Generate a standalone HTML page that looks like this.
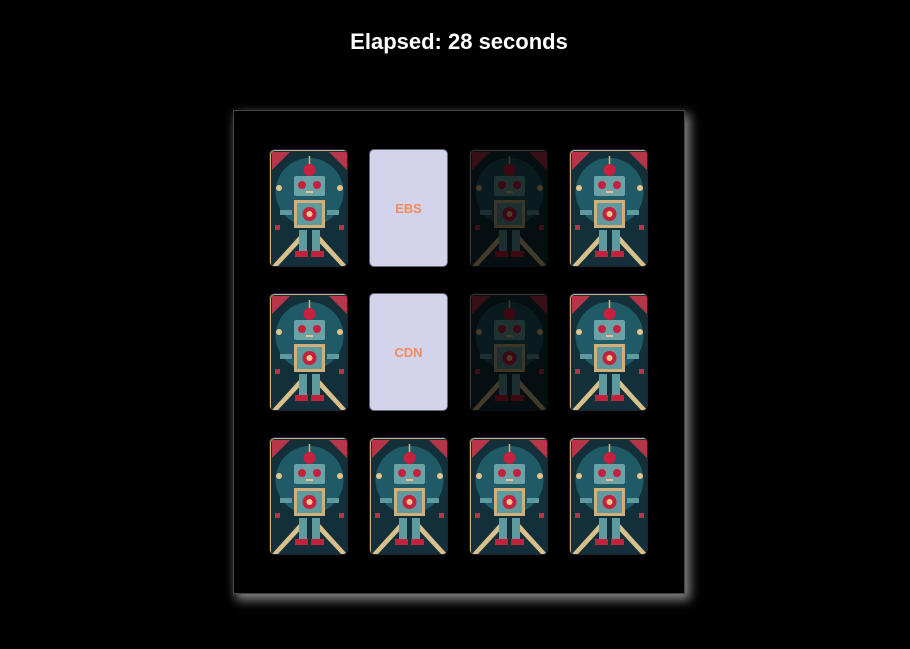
<!DOCTYPE html>
<html><head><meta charset="utf-8"><style>
html,body{margin:0;padding:0;background:#000;width:910px;height:649px;overflow:hidden;font-family:"Liberation Sans",sans-serif}
h1{position:absolute;top:27px;left:4px;width:910px;text-align:center;margin:0;color:#fff;font-size:22px;font-weight:bold;line-height:30px}
#board{position:absolute;left:233px;top:110px;width:450px;height:482px;border:1px solid #444;background:#000;box-shadow:4px 5px 10px 1px rgba(220,220,220,0.6)}
.card{position:absolute;width:79px;height:118px;border-radius:5px;overflow:hidden;box-sizing:border-box;border:1px solid #223}
.card svg{display:block}
.faded{opacity:0.3}
.face{background:#d3d3ec;display:flex;align-items:center;justify-content:center;color:#f58a5a;font-weight:bold;font-size:13px;border:1px solid #667}
</style></head><body>
<svg width="0" height="0" style="position:absolute">
<symbol id="robot" viewBox="0 0 79 118">
<rect width="79" height="118" fill="#13303a"/>
<circle cx="39.5" cy="42" r="34" fill="#1f5a66"/>
<path d="M2 2 L20 2 L2 20Z M77 2 L59 2 L77 20Z" fill="#b73548"/>
<path d="M2 116 L30 85 L34 88 L8 116Z M77 116 L49 85 L45 88 L71 116Z" fill="#d9c08a"/>
<circle cx="9" cy="38" r="3" fill="#e3c48e"/><circle cx="70" cy="38" r="3" fill="#e3c48e"/>
<line x1="39.5" y1="6" x2="39.5" y2="16" stroke="#c9b48a" stroke-width="1.5"/>
<circle cx="39.5" cy="20" r="6" fill="#c5203e"/>
<rect x="24" y="26" width="31" height="20" rx="2" fill="#6aa2a6"/>
<circle cx="32" cy="35" r="4" fill="#c5203e"/><circle cx="47" cy="35" r="4" fill="#c5203e"/>
<rect x="36" y="41" width="7" height="2" fill="#e7c08c"/>
<rect x="24" y="50" width="31" height="28" fill="#cfb07a"/>
<rect x="27" y="53" width="25" height="22" fill="#5f9a9e"/>
<circle cx="39.5" cy="64" r="7" fill="#c5203e"/><circle cx="39.5" cy="64" r="3" fill="#f2c98d"/>
<rect x="29" y="80" width="8" height="22" fill="#5f9a9e"/><rect x="42" y="80" width="8" height="22" fill="#5f9a9e"/>
<rect x="25" y="101" width="13" height="6" fill="#c5203e"/><rect x="41" y="101" width="13" height="6" fill="#c5203e"/>
<rect x="10" y="60" width="12" height="5" fill="#5f9a9e"/><rect x="57" y="60" width="12" height="5" fill="#5f9a9e"/>
<rect x="5" y="75" width="5" height="5" fill="#b73548"/><rect x="69" y="75" width="5" height="5" fill="#b73548"/>
<rect x="0.5" y="0.5" width="78" height="117" rx="4" fill="none" stroke="#c9b48a" stroke-width="1"/>
</symbol>
</svg>
<h1>Elapsed: 28 seconds</h1>
<div id="board"></div>
<script>
var labels = ['', 'EBS', 'faded', '', '', 'CDN', 'faded', '', '', '', '', ''];
var board = document.getElementById('board');
var colX = [35, 135, 235, 335];
var rowY = [38, 182, 326];
for (var i = 0; i < 12; i++) {
  var d = document.createElement('div');
  
  
  d.className = 'card';
  d.style.left = colX[i % 4] + 'px';
  d.style.top = rowY[Math.floor(i / 4)] + 'px';
  var l = labels[i];
  if (l && l !== 'faded') {
    d.className += ' face';
    d.textContent = l;
  } else {
    if (l === 'faded') d.className += ' faded';
    d.innerHTML = '<svg width="79" height="118"><use href="#robot"/></svg>';
  }
  board.appendChild(d);
}
</script>
</body></html>
